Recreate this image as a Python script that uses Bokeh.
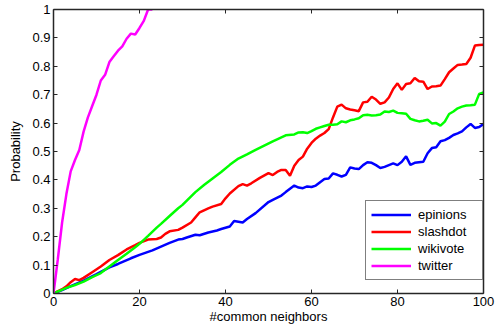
from bokeh.plotting import figure
from bokeh.models import Range1d, LinearAxis, FixedTicker, Legend, LegendItem, CustomJSTickFormatter
from bokeh.embed import file_html
from bokeh.resources import INLINE

# ---------------- data ----------------
epinions_x = [0, 2, 4, 7, 10, 13, 15, 18, 20, 23, 25, 27, 29, 30, 31, 33, 34, 36, 38, 39, 41, 42, 44, 45, 47,
              50, 51, 53, 54, 56, 57, 58, 59, 60, 61, 62, 63, 64, 65, 66, 67, 68, 69, 70, 71, 72, 73, 74, 75,
              76, 77, 78, 79, 80, 81, 82, 83, 84, 85, 86, 87, 88, 89, 90, 91, 92, 93, 94, 95, 96, 97, 98, 99, 100]
epinions_y = [0, 0.012, 0.026, 0.045, 0.068, 0.092, 0.104, 0.124, 0.136, 0.152, 0.165, 0.178, 0.19, 0.192,
              0.197, 0.207, 0.205, 0.215, 0.222, 0.227, 0.236, 0.255, 0.25, 0.262, 0.283, 0.322, 0.33, 0.345,
              0.357, 0.38, 0.373, 0.371, 0.377, 0.375, 0.38, 0.392, 0.403, 0.405, 0.423, 0.418, 0.412, 0.418,
              0.444, 0.44, 0.438, 0.452, 0.462, 0.46, 0.452, 0.442, 0.446, 0.452, 0.458, 0.452, 0.464, 0.483,
              0.453, 0.46, 0.462, 0.464, 0.494, 0.512, 0.515, 0.536, 0.54, 0.548, 0.558, 0.564, 0.571, 0.585,
              0.597, 0.583, 0.586, 0.597]

slashdot_x = [0, 2, 3, 4, 5, 6, 7, 9, 11, 13, 15, 17, 19, 20, 22, 24, 25, 26, 27, 29, 30, 32, 33, 34, 36, 37,
              39, 40, 41, 43, 44, 45, 46, 48, 50, 51, 52, 53, 54, 55, 56, 57, 58, 59, 60, 61, 62, 63, 64, 65,
              66, 67, 68, 69, 70, 71, 72, 73, 74, 75, 76, 77, 78, 79, 80, 81, 82, 83, 84, 85, 86, 87, 88, 89,
              90, 91, 92, 93, 94, 95, 96, 97, 98, 99, 100]
slashdot_y = [0, 0.015, 0.025, 0.04, 0.051, 0.047, 0.055, 0.075, 0.095, 0.118, 0.135, 0.155, 0.17, 0.178,
              0.19, 0.192, 0.197, 0.21, 0.219, 0.224, 0.232, 0.25, 0.268, 0.286, 0.3, 0.306, 0.315, 0.335,
              0.352, 0.378, 0.385, 0.38, 0.388, 0.407, 0.424, 0.417, 0.428, 0.435, 0.435, 0.415, 0.45, 0.47,
              0.482, 0.51, 0.53, 0.545, 0.556, 0.565, 0.579, 0.62, 0.658, 0.665, 0.652, 0.648, 0.645, 0.642,
              0.673, 0.675, 0.693, 0.683, 0.668, 0.673, 0.69, 0.72, 0.74, 0.717, 0.738, 0.74, 0.759, 0.747,
              0.746, 0.72, 0.729, 0.73, 0.732, 0.755, 0.779, 0.792, 0.805, 0.806, 0.808, 0.83, 0.873, 0.875,
              0.876]

wikivote_x = [0, 3, 5, 7, 9, 11, 13, 15, 17, 19, 20, 22, 24, 25, 27, 29, 30, 32, 33, 35, 37, 39, 41, 43, 45,
              47, 49, 51, 53, 54, 56, 57, 58, 59, 60, 61, 62, 63, 64, 65, 66, 67, 68, 69, 70, 71, 72, 73, 74,
              75, 76, 77, 78, 79, 80, 81, 82, 83, 84, 85, 86, 87, 88, 89, 90, 91, 92, 93, 94, 95, 96, 97, 98,
              99, 100]
wikivote_y = [0, 0.02, 0.03, 0.042, 0.058, 0.072, 0.095, 0.118, 0.14, 0.163, 0.175, 0.203, 0.232, 0.245,
              0.273, 0.3, 0.312, 0.342, 0.357, 0.382, 0.405, 0.428, 0.453, 0.475, 0.49, 0.506, 0.521, 0.536,
              0.55, 0.557, 0.56, 0.567, 0.568, 0.565, 0.572, 0.58, 0.585, 0.59, 0.594, 0.594, 0.596, 0.606,
              0.603, 0.61, 0.613, 0.617, 0.628, 0.629, 0.627, 0.628, 0.63, 0.641, 0.639, 0.644, 0.636, 0.635,
              0.633, 0.615, 0.61, 0.606, 0.608, 0.612, 0.599, 0.6, 0.591, 0.605, 0.632, 0.641, 0.652, 0.658,
              0.662, 0.663, 0.665, 0.703, 0.708]

twitter_x = [0, 1, 2, 3, 4, 5, 6, 7, 8, 9, 10, 11, 12, 13, 14, 15, 16, 17, 18, 19, 20, 21, 22, 23]
twitter_y = [0, 0.12, 0.25, 0.35, 0.43, 0.47, 0.505, 0.57, 0.62, 0.66, 0.70, 0.75, 0.77, 0.815, 0.835,
             0.855, 0.87, 0.897, 0.915, 0.912, 0.935, 0.96, 1.0, 1.0]

series_names = ["epinions", "slashdot", "wikivote", "twitter"]
series_colors = ["#0000FF", "#FF0000", "#00FF00", "#FF00FF"]

x_ticks = [0, 20, 40, 60, 80, 100]
y_ticks = [0, 0.1, 0.2, 0.3, 0.4, 0.5, 0.6, 0.7, 0.8, 0.9, 1]
y_tick_labels = ["0", "0.1", "0.2", "0.3", "0.4", "0.5", "0.6", "0.7", "0.8", "0.9", "1"]

x_label = "#common neighbors"
y_label = "Probability"

# ---------------- figure ----------------
FONT = "Liberation Sans"
AX = "#262626"

p = figure(width=495, height=327, output_backend="svg", toolbar_location=None,
           x_range=Range1d(0, 100), y_range=Range1d(0, 1),
           min_border_left=53, min_border_right=12, min_border_top=9, min_border_bottom=34)
p.outline_line_color = None
p.grid.visible = False
p.background_fill_color = "white"
p.border_fill_color = "white"

bottom_axis = p.below[0]
left_axis = p.left[0]
top_axis = LinearAxis()
right_axis = LinearAxis()
p.add_layout(top_axis, "above")
p.add_layout(right_axis, "right")

for ax in (bottom_axis, left_axis, top_axis, right_axis):
    ax.axis_line_color = AX
    ax.axis_line_width = 1.5
    ax.major_tick_in = 4
    ax.major_tick_out = 0
    ax.major_tick_line_color = AX
    ax.major_tick_line_width = 1
    ax.minor_tick_line_color = None
    ax.major_label_text_font = FONT
    ax.major_label_text_font_size = "13px"
    ax.major_label_text_color = "black"
    ax.axis_label_text_font = FONT
    ax.axis_label_text_font_size = "13px"
    ax.axis_label_text_font_style = "normal"
    ax.axis_label_text_color = "black"

for ax in (bottom_axis, top_axis):
    ax.ticker = FixedTicker(ticks=x_ticks)
for ax in (left_axis, right_axis):
    ax.ticker = FixedTicker(ticks=y_ticks)

left_axis.formatter = CustomJSTickFormatter(args=dict(tv=y_ticks, tl=y_tick_labels), code="""
    for (let i = 0; i < tv.length; i++) { if (Math.abs(tv[i] - tick) < 1e-9) return tl[i]; }
    return "";
""")

# box-style top/right axes: ticks only, no labels drawn
for ax in (top_axis, right_axis):
    ax.major_label_text_font_size = "0px"
    ax.major_label_text_color = None
    ax.major_label_text_alpha = 0
    ax.major_label_standoff = 0
    ax.axis_label_standoff = 0

bottom_axis.axis_label = x_label
bottom_axis.major_label_standoff = 3
bottom_axis.axis_label_standoff = 0

left_axis.axis_label = y_label
left_axis.major_label_standoff = 3
left_axis.axis_label_standoff = 6

xs = [epinions_x, slashdot_x, wikivote_x, twitter_x]
ys = [epinions_y, slashdot_y, wikivote_y, twitter_y]
items = []
for name, color, x, y in zip(series_names, series_colors, xs, ys):
    r = p.line(x, y, line_color=color, line_width=2.5)
    items.append(LegendItem(label=name, renderers=[r]))

legend = Legend(items=items, location=(312, 13), margin=0, padding=5, spacing=0,
                glyph_width=40, glyph_height=17, label_height=17, label_width=59, label_standoff=7,
                label_text_font=FONT, label_text_font_size="13px", label_text_color="black",
                border_line_color="black", border_line_width=1,
                background_fill_color="white", background_fill_alpha=1)
p.add_layout(legend)

open("out.html", "w").write(file_html(p, INLINE))
